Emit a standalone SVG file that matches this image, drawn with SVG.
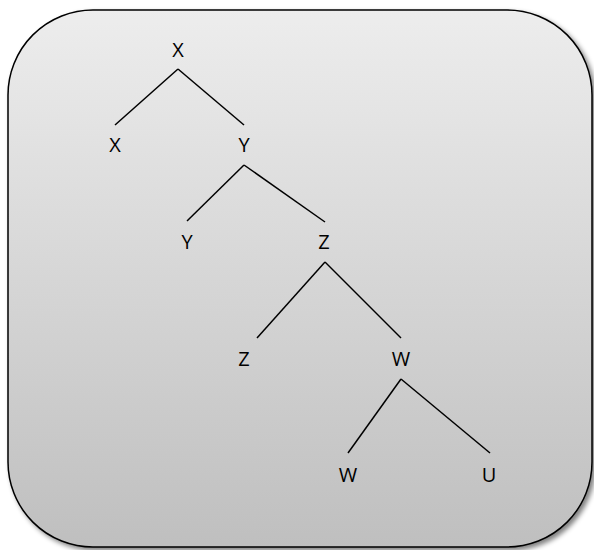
<svg xmlns="http://www.w3.org/2000/svg" width="594" height="550" viewBox="0 0 594 550">
<defs>
<linearGradient id="bg" x1="0" y1="0" x2="0" y2="1">
<stop offset="0" stop-color="#ededed"/>
<stop offset="1" stop-color="#bfbfbf"/>
</linearGradient>
<filter id="sh" x="-5%" y="-5%" width="110%" height="110%">
<feGaussianBlur in="SourceAlpha" stdDeviation="2.5"/>
<feOffset dx="3" dy="3" result="b"/>
<feComponentTransfer><feFuncA type="linear" slope="0.5"/></feComponentTransfer>
<feMerge><feMergeNode/><feMergeNode in="SourceGraphic"/></feMerge>
</filter>
</defs>
<style>
.t{font-family:"Open Sans","Liberation Sans",sans-serif;font-size:20px;fill:#000;text-anchor:middle}
.e{stroke:#000;stroke-width:1.5;fill:none}
</style>
<rect x="8" y="10" width="584" height="537" rx="85" ry="85" fill="url(#bg)" stroke="#000" stroke-width="1.5" filter="url(#sh)"/>
<g id="connectors">
<line class="e" x1="178" y1="69" x2="115" y2="125"/>
<line class="e" x1="178" y1="69" x2="244" y2="125"/>
<line class="e" x1="244" y1="165" x2="187" y2="221"/>
<line class="e" x1="244" y1="165" x2="325" y2="222"/>
<line class="e" x1="325" y1="262" x2="257" y2="338"/>
<line class="e" x1="325" y1="262" x2="401" y2="338"/>
<line class="e" x1="401" y1="379" x2="348" y2="453"/>
<line class="e" x1="401" y1="379" x2="490" y2="453"/>
</g>
<g id="n1"><text class="t" x="178" y="57">X</text></g>
<g id="n2"><text class="t" x="115" y="152">X</text></g>
<g id="n3"><text class="t" x="244" y="152">Y</text></g>
<g id="n4"><text class="t" x="187" y="249">Y</text></g>
<g id="n5"><text class="t" x="324" y="249">Z</text></g>
<g id="n6"><text class="t" x="244" y="366">Z</text></g>
<g id="n7"><text class="t" x="401" y="366">W</text></g>
<g id="n8"><text class="t" x="348" y="482">W</text></g>
<g id="n9"><text class="t" x="489" y="482">U</text></g>
</svg>
